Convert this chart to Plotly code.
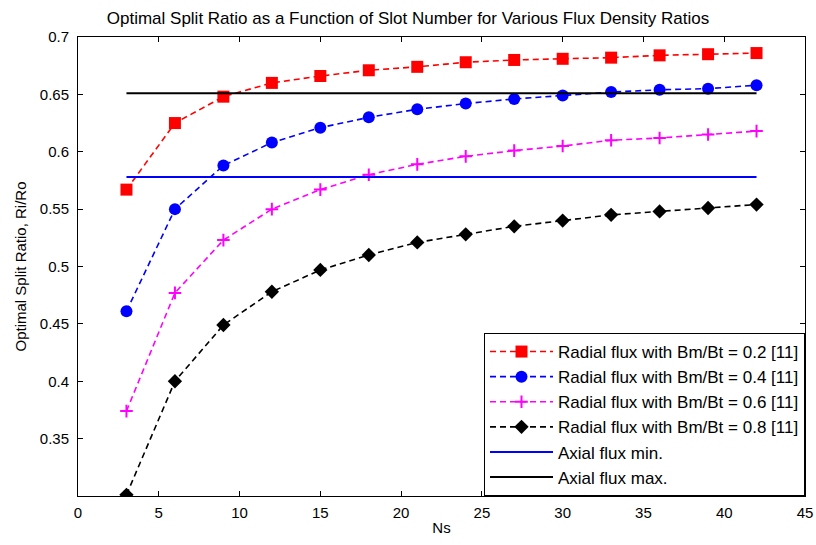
import plotly.graph_objects as go

ns = [3, 6, 9, 12, 15, 18, 21, 24, 27, 30, 33, 36, 39, 42]
r02 = [0.567, 0.625, 0.648, 0.660, 0.666, 0.671, 0.674, 0.678, 0.680, 0.681, 0.682, 0.684, 0.685, 0.686]
r04 = [0.461, 0.550, 0.588, 0.608, 0.621, 0.630, 0.637, 0.642, 0.646, 0.649, 0.652, 0.654, 0.655, 0.658]
r06 = [0.374, 0.477, 0.523, 0.550, 0.567, 0.580, 0.589, 0.596, 0.601, 0.605, 0.610, 0.612, 0.615, 0.618]
r08 = [0.301, 0.400, 0.449, 0.478, 0.497, 0.510, 0.521, 0.528, 0.535, 0.540, 0.545, 0.548, 0.551, 0.554]
axial_x = [3, 42]
axial_min = 0.578
axial_max = 0.651

series = [
    ("Radial flux with Bm/Bt = 0.2 [11]", r02, "#ff0000", "square", 12),
    ("Radial flux with Bm/Bt = 0.4 [11]", r04, "#0000ff", "circle", 12),
    ("Radial flux with Bm/Bt = 0.6 [11]", r06, "#ff00ff", "cross-thin", 9),
    ("Radial flux with Bm/Bt = 0.8 [11]", r08, "#000000", "diamond", 11),
]

fig = go.Figure()
for i, (name, ys, col, sym, sz) in enumerate(series):
    mk = dict(symbol=sym, size=sz, color=col)
    if sym == "cross-thin":
        mk["line"] = dict(color=col, width=2)
    fig.add_trace(go.Scatter(x=ns, y=ys, name=name, mode="lines+markers",
                             line=dict(color=col, width=1.6, dash="6px,4px"),
                             marker=mk, legendgroup=f"g{i}"))

fig.add_trace(go.Scatter(x=axial_x, y=[axial_min] * 2, name="Axial flux min.", mode="lines",
                         line=dict(color="#0000ff", width=2), legendgroup="g4"))
fig.add_trace(go.Scatter(x=axial_x, y=[axial_max] * 2, name="Axial flux max.", mode="lines",
                         line=dict(color="#000000", width=2), legendgroup="g5"))

axis_common = dict(showgrid=False, zeroline=False, showline=True, linecolor="black", linewidth=1,
                   mirror="ticks", ticks="inside", ticklen=5, tickcolor="black", automargin=False,
                   tickfont=dict(family="Arial", size=15, color="black"))

fig.update_layout(
    width=816, height=545,
    margin=dict(l=78, r=11, t=37, b=49),
    paper_bgcolor="white", plot_bgcolor="white",
    title=dict(text="Optimal Split Ratio as a Function of Slot Number for Various Flux Density Ratios",
               x=0.5, xanchor="center", y=0.967, yanchor="middle",
               font=dict(family="Arial", size=17, color="black")),
    xaxis=dict(range=[0, 45], tickvals=list(range(0, 46, 5)), ticklabelstandoff=3,
               title=dict(text="Ns", font=dict(family="Arial", size=15, color="black"), standoff=2),
               **axis_common),
    yaxis=dict(range=[0.3, 0.7], tickvals=[0.35, 0.4, 0.45, 0.5, 0.55, 0.6, 0.65, 0.7],
               ticktext=["0.35", "0.4", "0.45", "0.5", "0.55", "0.6", "0.65", "0.7"],
               ticklabelstandoff=5,
               title=dict(text="Optimal Split Ratio, Ri/Ro", font=dict(family="Arial", size=15, color="black"), standoff=9),
               **axis_common),
    legend=dict(x=1, y=0, xanchor="right", yanchor="bottom", bgcolor="white",
                bordercolor="black", borderwidth=1, tracegroupgap=0, itemwidth=63,
                font=dict(family="Arial", size=17, color="black")),
    showlegend=True,
)

fig.write_html("out.html")
